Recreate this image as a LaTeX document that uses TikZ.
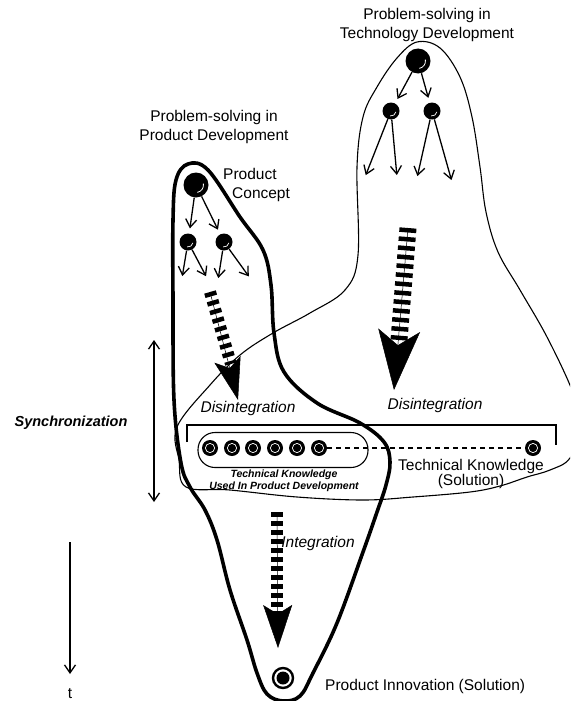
\documentclass[tikz,border=0pt]{standalone}
\usepackage{fontspec}
\setmainfont{Liberation Sans}
\usetikzlibrary{arrows.meta, positioning}

\begin{document}
\begin{tikzpicture}[x=1pt, y=-1pt,
    thinline/.style={line width=1.1pt},
    thickline/.style={line width=3.6pt, line join=round},
    arr/.style={-{Straight Barb[length=8pt, width=11pt, line width=1.3pt]}, line width=1.3pt, shorten >=2pt},
    bigball/.style={circle, fill=black, inner sep=0pt, minimum size=25pt, path picture={\draw[white, line width=0.8pt] (path picture bounding box.center) ++(-80:7.5pt) arc (-80:10:7.5pt);}},
    smallball/.style={circle, fill=black, inner sep=0pt, minimum size=17pt, path picture={\draw[white, line width=0.7pt] (path picture bounding box.center) ++(-100:5pt) arc (-100:-10:5pt);}},
    knowball/.style={circle, fill=black, inner sep=0pt, minimum size=16pt, path picture={\draw[white, line width=0.7pt] (path picture bounding box.center) circle (4.6pt);}},
    innoball/.style={circle, draw=black, line width=2.4pt, fill=white, inner sep=0pt, minimum size=20pt, path picture={\fill[black] (path picture bounding box.center) circle (6.5pt);}},
    dashbar/.style={line width=#1, dash pattern=on 4.5pt off 4.5pt},
    headline/.style={line width=0.5pt},
    lab/.style={font=\fontsize{15.5}{19.5}\selectfont, align=center, inner sep=0pt},
    itlab/.style={font=\fontsize{15.5}{19.5}\selectfont\itshape, inner sep=0pt},
    smalllab/.style={font=\fontsize{10.5}{12}\selectfont\bfseries\itshape, align=center, inner sep=0pt}
]
\useasboundingbox (0,0) rectangle (570,701);
\clip (0,0) rectangle (570,701);

% Outlines of the two problem-solving areas
\draw[thinline] plot[smooth cycle, tension=0.6] coordinates {(417,42) (440,48) (460,77) (472,117) (480,167) (486,212) (498,252) (520,290) (547,337) (572,390) (582,425) (570,458) (550,470) (527,477) (500,486) (470,492) (413,497) (363,500) (297,497) (230,490) (186,487) (179,460) (177,427) (210,385) (240,355) (273,333) (310,313) (345,290) (358,255) (357,167) (363,117) (377,87) (397,58)};
\draw[thickline] plot[smooth cycle, tension=0.6] coordinates {(188,164) (208,170) (240,217) (263,250) (271,285) (274,333) (284,372) (317,403) (360,423) (384,442) (390,462) (386,485) (377,512) (363,552) (337,623) (313,673) (300,696) (283,701) (267,694) (257,673) (247,640) (230,590) (217,540) (205,510) (190,487) (181,463) (174,400) (173,300) (173,220) (176,180)};

% Titles
\node[lab] (techtitle) at (427,25) {Problem-solving in\\Technology Development};
\node[lab] (prodtitle) at (214,127) {Problem-solving in\\Product Development};

% Technology development tree
\node[bigball] (tb) at (418,61) {};
\node[smallball] (tl) at (391,111) {};
\node[smallball] (tr) at (432,111) {};
\coordinate (te1) at (365,177);
\coordinate (te2) at (397,177);
\coordinate (te3) at (417,178);
\coordinate (te4) at (452,182);
\draw[arr, shorten >=5pt] (tb) -- (tl);
\draw[arr, shorten >=5pt] (tb) -- (tr);
\draw[arr] (tl) -- (te1);
\draw[arr] (tl) -- (te2);
\draw[arr] (tr) -- (te3);
\draw[arr] (tr) -- (te4);

% Product development tree
\node[bigball] (pc) at (196,185) {};
\node[lab, anchor=west] (pclab1) at (223,174) {Product};
\node[lab, anchor=west] (pclab2) at (232,195) {Concept};
\node[smallball] (pl) at (188,242) {};
\node[smallball] (pr) at (224,242) {};
\coordinate (pe1) at (182,278);
\coordinate (pe2) at (207,278);
\coordinate (pe3) at (218,280);
\coordinate (pe4) at (250,278);
\draw[arr, shorten >=5pt] (pc) -- (pl);
\draw[arr, shorten >=5pt] (pc) -- (pr);
\draw[arr] (pl) -- (pe1);
\draw[arr] (pl) -- (pe2);
\draw[arr] (pr) -- (pe3);
\draw[arr] (pr) -- (pe4);

% Big dashed arrows
\coordinate (tdA) at (408,228);
\coordinate (tdB) at (399,340);
\coordinate (tdTip) at (394,390);
\draw[dashbar=17pt] (tdA) -- (tdB);
\draw[headline, -{Stealth[length=60pt, width=42pt, inset=15pt]}] (tdA) -- (tdTip);

\coordinate (pdA) at (210,292);
\coordinate (pdB) at (231,364);
\coordinate (pdTip) at (238,400);
\draw[dashbar=12pt] (pdA) -- (pdB);
\draw[headline, -{Stealth[length=42pt, width=27pt, inset=9pt]}] (pdA) -- (pdTip);

\coordinate (idA) at (277,512);
\coordinate (idB) at (277,615);
\coordinate (idTip) at (278,648);
\draw[dashbar=12pt] (idA) -- (idB);
\draw[headline, -{Stealth[length=43pt, width=29pt, inset=9pt]}] (idA) -- (idTip);

% Labels of the arrows
\node[itlab] (disleft) at (248,408) {Disintegration};
\node[itlab] (disright) at (435,405) {Disintegration};
\node[itlab] (integ) at (318,543) {Integration};

% Technical knowledge
\draw[thinline] (187,442) |- (556,425) -- (556,445);
\node[draw, thinline, rounded corners=17pt, minimum width=170pt, minimum height=35pt] (pill) at (283,450) {};
\node[knowball] (k1) at (210,448) {};
\node[knowball] (k2) at (232,448) {};
\node[knowball] (k3) at (253,448) {};
\node[knowball] (k4) at (275,448) {};
\node[knowball] (k5) at (297,448) {};
\node[knowball] (k6) at (319,448) {};
\node[knowball] (ks) at (533,448) {};
\draw[thinline, dash pattern=on 5pt off 4pt] (k6) -- (ks);
\node[smalllab] (tkused) at (284,481) {Technical Knowledge\\Used In Product Development};
\node[lab, font=\fontsize{15.5}{15.5}\selectfont] (tksol) at (471,474) {Technical Knowledge\\(Solution)};

% Product innovation
\node[innoball] (inno) at (283,678) {};
\node[lab, anchor=west] (innolab) at (325,686) {Product Innovation (Solution)};

% Synchronization and time
\coordinate (synT) at (154,340);
\coordinate (synB) at (154,502);
\draw[line width=1.3pt, {Straight Barb[length=8pt, width=11pt]}-{Straight Barb[length=8pt, width=11pt]}] (synT) -- (synB);
\node[font=\fontsize{14.5}{17}\selectfont\bfseries\itshape, inner sep=0pt] (synlab) at (71,423) {Synchronization};

\coordinate (tA) at (70,542);
\coordinate (tB) at (70,674);
\draw[arr, shorten >=0pt] (tA) -- (tB);
\node[lab] (tlab) at (70,694) {t};

\end{tikzpicture}
\end{document}
